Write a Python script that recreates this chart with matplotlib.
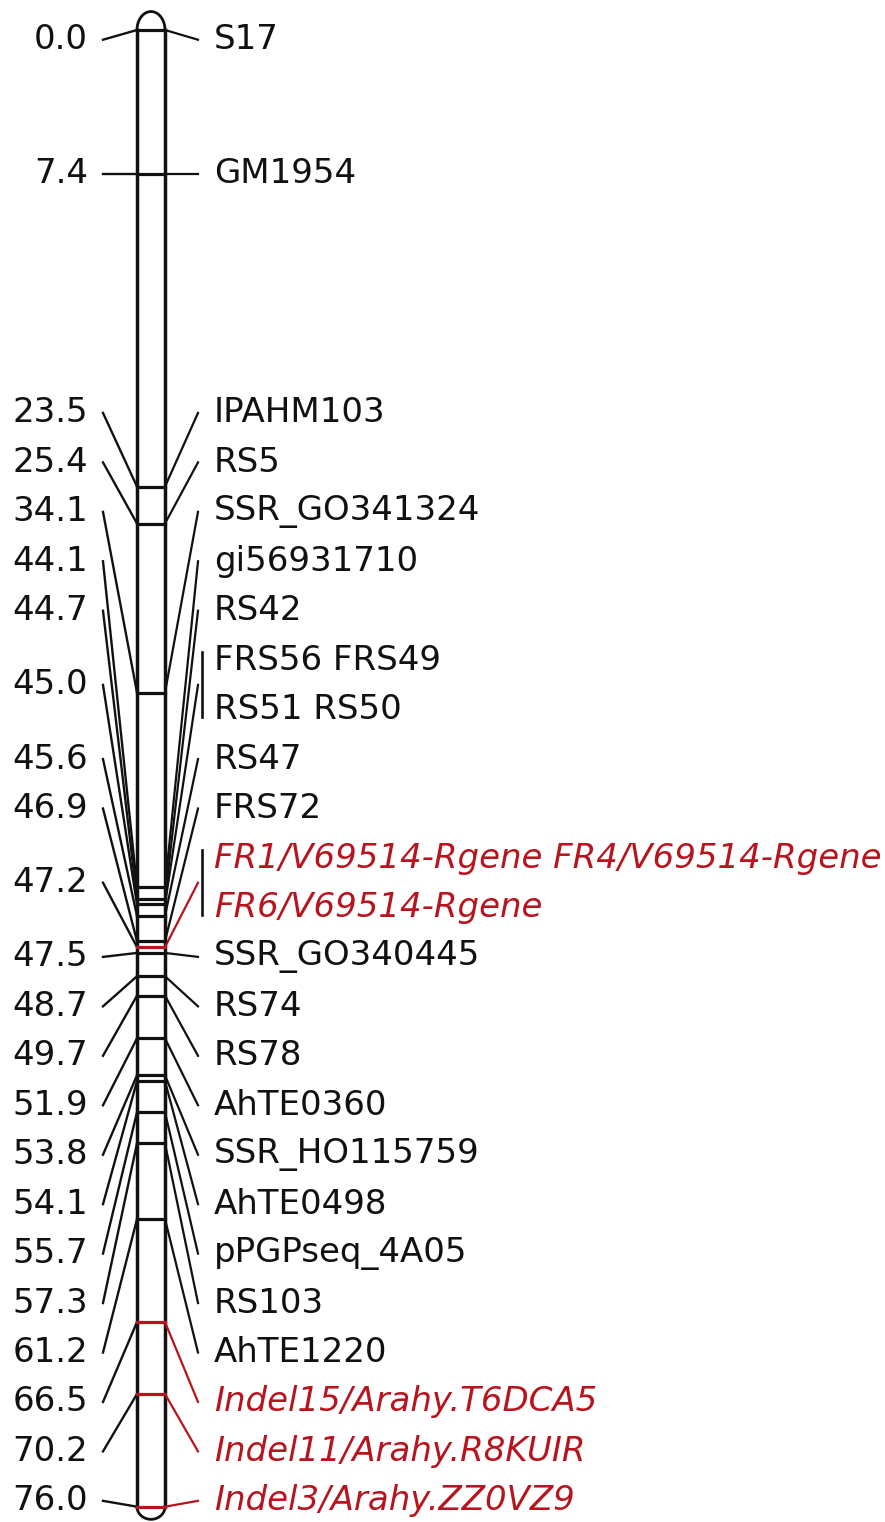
import numpy as np
import matplotlib.pyplot as plt

# linkage group: marker positions (cM) and the marker names printed at each position
positions = [0.0, 7.4, 23.5, 25.4, 34.1, 44.1, 44.7, 45.0, 45.6, 46.9, 47.2, 47.5,
             48.7, 49.7, 51.9, 53.8, 54.1, 55.7, 57.3, 61.2, 66.5, 70.2, 76.0]
marker_text = [
    ["S17"], ["GM1954"], ["IPAHM103"], ["RS5"], ["SSR_GO341324"], ["gi56931710"],
    ["RS42"], ["FRS56 FRS49", "RS51 RS50"], ["RS47"], ["FRS72"],
    ["FR1/V69514-Rgene FR4/V69514-Rgene", "FR6/V69514-Rgene"], ["SSR_GO340445"],
    ["RS74"], ["RS78"], ["AhTE0360"], ["SSR_HO115759"], ["AhTE0498"],
    ["pPGPseq_4A05"], ["RS103"], ["AhTE1220"], ["Indel15/Arahy.T6DCA5"],
    ["Indel11/Arahy.R8KUIR"], ["Indel3/Arahy.ZZ0VZ9"],
]
# positions of the markers linked to resistance (drawn in red)
highlight = [47.2, 66.5, 70.2, 76.0]

BLACK = "#111111"
RED = "#b8141e"
PX_PER_CM = 19.43
LABEL_GAP = 49.45 / PX_PER_CM      # vertical spacing of label rows, in cM
BAR_L, BAR_R = 137, 165
FS = 24.5


def spread(ideal, gap, lo, hi):
    """Push labels apart so rows are at least `gap` apart, clusters centred."""
    clusters = []

    def top_of(c):
        n = c[1] - c[0] + 1
        mid = np.mean(ideal[c[0]:c[1] + 1])
        top = mid - (n - 1) * gap / 2
        top = min(top, hi - (n - 1) * gap)
        return max(top, lo)

    for i in range(len(ideal)):
        clusters.append([i, i])
        while len(clusters) > 1:
            prev, cur = clusters[-2], clusters[-1]
            prev_bottom = top_of(prev) + (prev[1] - prev[0]) * gap
            if top_of(cur) < prev_bottom + gap - 1e-9:
                clusters[-2:] = [[prev[0], cur[1]]]
            else:
                break
    out = []
    for c in clusters:
        t = top_of(c)
        out += [t + k * gap for k in range(c[1] - c[0] + 1)]
    return out


fig = plt.figure(figsize=(8.85, 15.22), dpi=100)
ax = fig.add_axes([0, 0, 1, 1])
ax.set_xlim(0, 885)
ax.set_ylim(1492 / PX_PER_CM, -30 / PX_PER_CM)
ax.axis("off")

# one label row per text line
line_pos = [p for p, lines in zip(positions, marker_text) for _ in lines]
slots = spread(line_pos, LABEL_GAP, 0.5, positions[-1] - 0.3)

# chromosome bar with rounded ends
top, bot = positions[0], positions[-1]
cx, r = (BAR_L + BAR_R) / 2, (BAR_R - BAR_L) / 2
t = np.linspace(0, np.pi, 60)
ax.plot(cx + r * np.cos(t), top - 0.95 * np.sin(t), color=BLACK, lw=2.0)
ax.plot(cx + r * np.cos(t), bot + 0.65 * np.sin(t), color=BLACK, lw=2.0)
ax.plot([BAR_L, BAR_L], [top, bot], color=BLACK, lw=2.5)
ax.plot([BAR_R, BAR_R], [top, bot], color=BLACK, lw=2.5)

k = 0
for pos, lines in zip(positions, marker_text):
    red = pos in highlight
    col = RED if red else BLACK
    rows = slots[k:k + len(lines)]
    k += len(lines)
    mid = np.mean(rows)

    # tick across the bar
    ax.plot([BAR_L, BAR_R], [pos, pos], color=col, lw=2.3, zorder=3)

    # left: position label and connector
    ax.plot([103, BAR_L], [mid, pos], color=BLACK, lw=1.7)
    ax.text(88, mid, f"{pos:.1f}", ha="right", va="center", fontsize=FS,
            color=BLACK)

    # right: connector, bracket for grouped rows, marker names
    ax.plot([BAR_R, 198], [pos, mid], color=col, lw=1.6)
    if len(lines) > 1:
        ax.plot([202, 202], [rows[0] - 0.4, rows[-1] + 0.4], color=BLACK, lw=1.9)
    for row, name in zip(rows, lines):
        ax.text(214, row, name, ha="left", va="center", fontsize=FS,
                color=col, style="italic" if red else "normal")

fig.savefig("out.png", dpi=100)
